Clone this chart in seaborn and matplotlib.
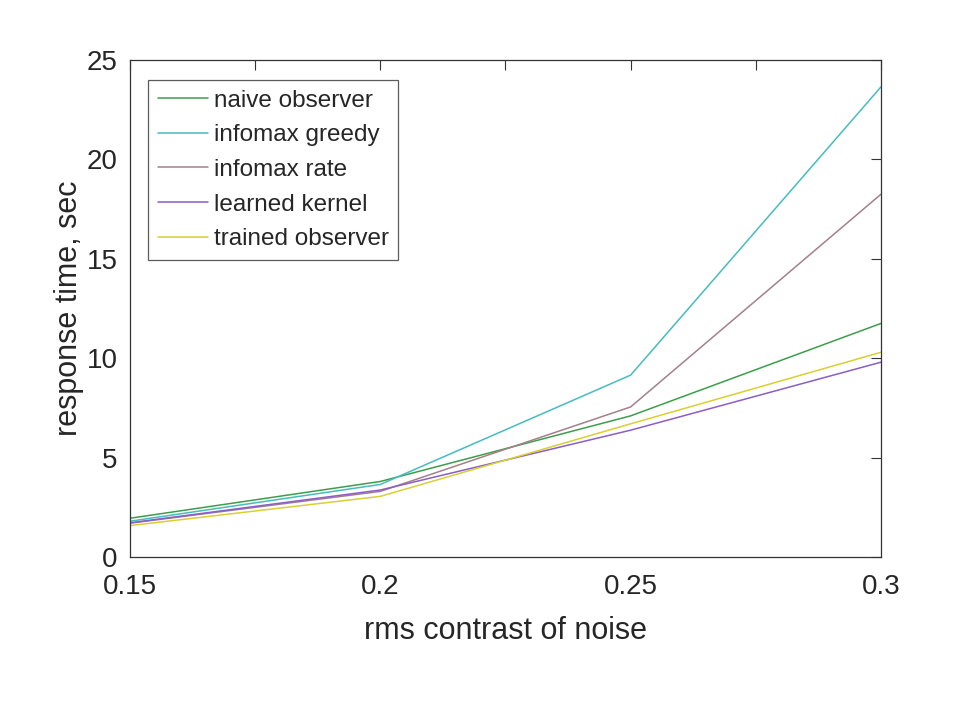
import matplotlib
matplotlib.use("Agg")
import matplotlib.pyplot as plt
import seaborn as sns
import pandas as pd
import numpy as np
from matplotlib.ticker import MultipleLocator, FixedLocator

contrast = [0.15, 0.2, 0.25, 0.3]
naive_observer = [1.95, 3.8, 7.1, 11.75]
infomax_greedy = [1.8, 3.65, 9.15, 23.65]
infomax_rate = [1.7, 3.3, 7.55, 18.25]
learned_kernel = [1.72, 3.37, 6.38, 9.8]
trained_observer = [1.58, 3.05, 6.7, 10.3]

series_names = ["naive observer", "infomax greedy", "infomax rate",
                "learned kernel", "trained observer"]
series_values = [naive_observer, infomax_greedy, infomax_rate,
                 learned_kernel, trained_observer]
colors = ["#3d9e4a", "#45bcc0", "#a3808a", "#8a5ec8", "#d8d030"]

rows = []
for name, vals in zip(series_names, series_values):
    for x, y in zip(contrast, vals):
        rows.append({"contrast": x, "time": y, "series": name})
df = pd.DataFrame(rows)

sns.set_theme(style="white")
plt.rcParams['font.family'] = ['Liberation Sans', 'DejaVu Sans']

fig = plt.figure(figsize=(9.75, 7.05), dpi=100)
ax = fig.add_axes([0.1333, 0.2099, 0.9036 - 0.1333, 0.9149 - 0.2099])

sns.lineplot(data=df, x="contrast", y="time", hue="series",
             hue_order=series_names, palette=colors, linewidth=1.1,
             ax=ax, legend=True)

ax.set_xlim(0.15, 0.3)
ax.set_ylim(0, 25)
ax.xaxis.set_major_locator(FixedLocator([0.15, 0.2, 0.25, 0.3]))
ax.xaxis.set_minor_locator(FixedLocator([0.175, 0.225, 0.275]))
ax.set_xticklabels(["0.15", "0.2", "0.25", "0.3"])
ax.yaxis.set_major_locator(MultipleLocator(5))
ax.tick_params(axis="both", which="both", direction="in", top=True, right=True,
               length=7, width=0.8, color="#333333", labelsize=20,
               labelcolor="#262626")
ax.tick_params(axis="x", which="both", pad=12)
ax.tick_params(axis="y", which="both", pad=9)
for sp in ax.spines.values():
    sp.set_color("#333333")
    sp.set_linewidth(0.9)

ax.set_xlabel("rms contrast of noise", fontsize=22, color="#262626", labelpad=12)
ax.set_ylabel("response time, sec", fontsize=22, color="#262626", labelpad=2)

leg = ax.legend(loc="upper left", bbox_to_anchor=(0.024, 0.96), fontsize=17.5,
                frameon=True, fancybox=False, handlelength=2.05,
                handletextpad=0.25, borderpad=0.4, labelspacing=0.52,
                borderaxespad=0)
leg.get_frame().set_edgecolor("#333333")
leg.get_frame().set_linewidth(0.9)

fig.savefig("out.png", dpi=100, facecolor="white")
